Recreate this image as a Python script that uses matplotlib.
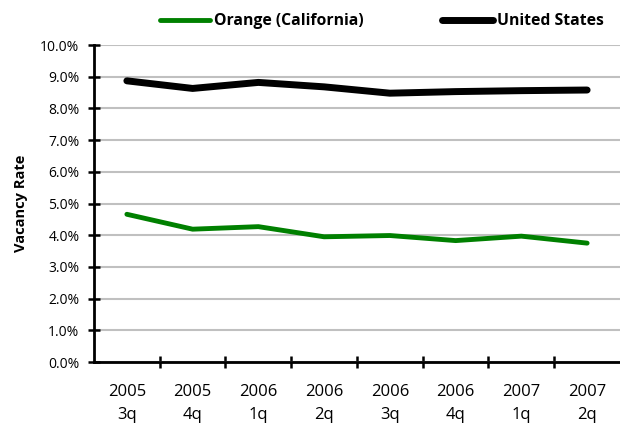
import matplotlib.pyplot as plt
from matplotlib.ticker import FixedLocator, PercentFormatter

plt.rcParams['font.family'] = ['Open Sans', 'DejaVu Sans']

quarters = ['2005\n3q', '2005\n4q', '2006\n1q', '2006\n2q',
            '2006\n3q', '2006\n4q', '2007\n1q', '2007\n2q']
orange_ca = [4.66, 4.19, 4.27, 3.95, 3.99, 3.83, 3.97, 3.75]
united_states = [8.87, 8.63, 8.82, 8.68, 8.48, 8.53, 8.56, 8.58]

fig = plt.figure(figsize=(6.2, 4.23), dpi=100)
ax = fig.add_axes([0.1516, 0.1442, 0.8484, 0.7494])

n = len(quarters)
x = list(range(n))
ax.plot(x, orange_ca, color='#008000', linewidth=3.5,
        solid_capstyle='round', label='Orange (California)')
ax.plot(x, united_states, color='black', linewidth=5,
        solid_capstyle='round', label='United States')

ax.set_xlim(-0.5, n - 0.5)
ax.set_ylim(0, 10)
ax.set_xticks(x)
ax.set_xticklabels(quarters, fontsize=12, linespacing=1.6)
ax.xaxis.set_minor_locator(FixedLocator([i + 0.5 for i in range(n - 1)]))
ax.tick_params(axis='x', which='major', length=0, pad=16)
ax.tick_params(axis='x', which='minor', length=9, width=1.8, direction='inout')
ax.set_yticks(range(0, 11))
ax.yaxis.set_major_formatter(PercentFormatter(decimals=1))
ax.tick_params(axis='y', length=9, width=1.8, direction='inout', labelsize=10, pad=6)
ax.grid(axis='y', color='#c0c0c0', linewidth=1.5)
ax.set_axisbelow(True)
for side in ['top', 'right']:
    ax.spines[side].set_visible(False)
for side in ['left', 'bottom']:
    ax.spines[side].set_linewidth(2)
ax.set_ylabel('Vacancy Rate', fontsize=10.5, fontweight='bold', labelpad=9)

fig.legend(loc='center left', bbox_to_anchor=(160 / 620, 1 - 21 / 423), ncol=2,
           frameon=False, borderpad=0, borderaxespad=0,
           handlelength=3.2, handletextpad=0.26, columnspacing=5.0,
           prop={'weight': 'bold', 'size': 11.3})

fig.savefig('out.png', dpi=100)
